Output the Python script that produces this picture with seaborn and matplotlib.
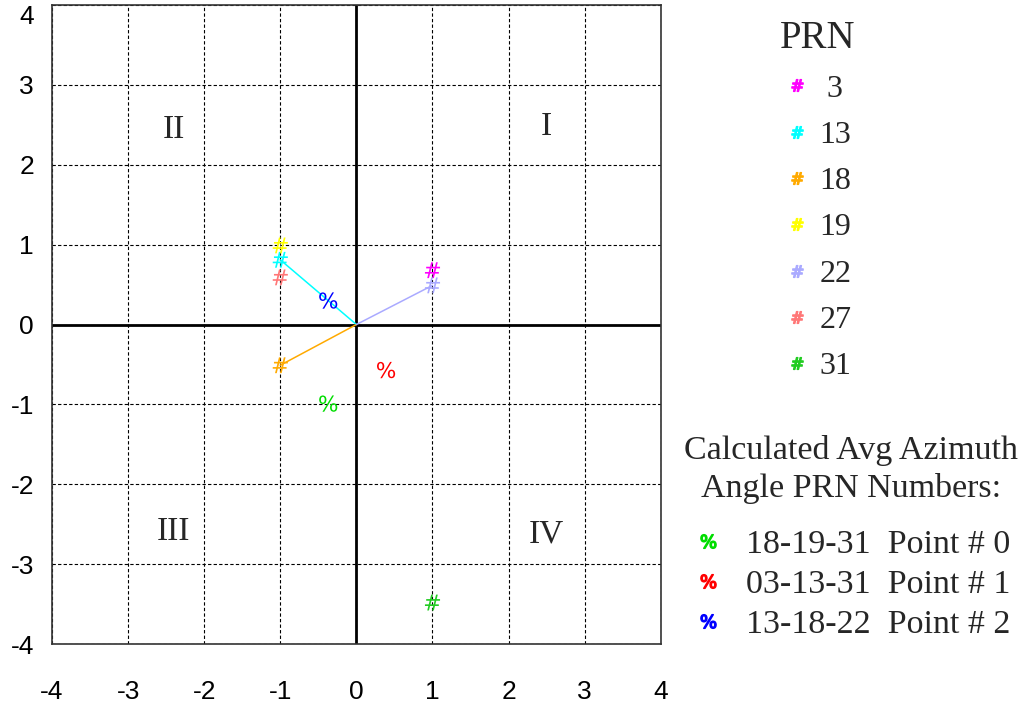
import matplotlib
matplotlib.use("Agg")
import matplotlib.pyplot as plt
from matplotlib.lines import Line2D
import pandas as pd
import seaborn as sns

# Satellite (PRN) azimuth unit positions
prn_labels = ["3", "13", "18", "19", "22", "27", "31"]
prn_x = [1, -1, -1, -1, 1, -1, 1]
prn_y = [0.68, 0.81, -0.51, 0.99, 0.49, 0.59, -3.48]
prn_colors = ["#ff00ff", "#00ffff", "#ffaa00", "#ffff00", "#aaaaff", "#ff7777", "#22cc22"]
# satellites joined to the origin by a ray
ray_prns = ["13", "18", "22"]

# Calculated average azimuth points
avg_names = ["18-19-31", "03-13-31", "13-18-22"]
avg_point_ids = [0, 1, 2]
avg_x = [-0.37, 0.39, -0.37]
avg_y = [-0.99, -0.57, 0.30]
avg_colors = ["#00dd00", "#ff0000", "#0000ff"]

# Quadrant captions
quadrant_names = ["I", "II", "III", "IV"]
quadrant_x = [2.5, -2.4, -2.4, 2.5]
quadrant_y = [2.48, 2.44, -2.59, -2.62]

ticks = [-4, -3, -2, -1, 0, 1, 2, 3, 4]

sns.set_theme(style="white")
plt.rcParams["font.family"] = ["Liberation Sans", "DejaVu Sans"]

serif = "Liberation Serif"

fig = plt.figure(figsize=(10.25, 7.07), dpi=100)
ax = fig.add_axes([0.0507, 0.089, 0.594, 0.904])

ax.set_xlim(-4, 4)
ax.set_ylim(-4, 4)
ax.set_xticks(ticks)
ax.set_yticks(ticks)
ax.set_xticklabels([str(t) for t in ticks], fontsize=19)
ax.set_yticklabels([str(t) for t in ticks], fontsize=19)
ax.tick_params(axis="both", length=0, colors="black")
ax.tick_params(axis="x", pad=26)
ax.tick_params(axis="y", pad=13)
ax.yaxis.get_major_ticks()[-1].label1.set_va("top")

ax.grid(True, color="black", linestyle=(0, (3, 2)), linewidth=0.8)
ax.set_axisbelow(True)
for side in ax.spines.values():
    side.set_color("#333333")
    side.set_linewidth(1.2)

ax.axhline(0, color="black", linewidth=2, zorder=2)
ax.axvline(0, color="black", linewidth=2, zorder=2)

prn_palette = dict(zip(prn_labels, prn_colors))
prn_df = pd.DataFrame({"x": prn_x, "y": prn_y, "prn": prn_labels})

# rays from the origin
for p in ray_prns:
    i = prn_labels.index(p)
    ax.plot([0, prn_x[i]], [0, prn_y[i]], color=prn_colors[i], linewidth=1.1, zorder=3)

sns.scatterplot(data=prn_df, x="x", y="y", hue="prn", palette=prn_palette,
                marker="$\\#$", s=130, linewidth=0, legend=False, ax=ax, zorder=4)

avg_df = pd.DataFrame({"x": avg_x, "y": avg_y, "name": avg_names})
sns.scatterplot(data=avg_df, x="x", y="y", hue="name",
                palette=dict(zip(avg_names, avg_colors)),
                marker="$\\%$", s=170, linewidth=0, legend=False, ax=ax, zorder=5)
ax.set_xlabel("")
ax.set_ylabel("")

for name, qx, qy in zip(quadrant_names, quadrant_x, quadrant_y):
    ax.text(qx, qy, name, family=serif, fontsize=24, ha="center", va="center")

# PRN legend
prn_handles = [Line2D([], [], linestyle="", marker="$\\#$", color=c, markersize=8.5)
               for c in prn_colors]
prn_text = [" " + l if len(l) == 1 else l for l in prn_labels]
leg1 = fig.legend(prn_handles, prn_text, title="PRN", loc="upper left",
                  bbox_to_anchor=(0.761, 0.972), frameon=False,
                  prop={"family": serif, "size": 23},
                  title_fontproperties={"family": serif, "size": 28},
                  labelspacing=0.53, handletextpad=0.3, handlelength=0.8,
                  borderaxespad=0, borderpad=0)
leg1._legend_box.sep = 12.5

# Average azimuth legend
avg_handles = [Line2D([], [], linestyle="", marker="$\\%$", color=c, markersize=11)
               for c in avg_colors]
avg_text = [f"{n}  Point # {k}" for n, k in zip(avg_names, avg_point_ids)]
leg2 = fig.legend(avg_handles, avg_text, title="Calculated Avg Azimuth\nAngle PRN Numbers:",
                  loc="upper left", bbox_to_anchor=(0.667, 0.385), frameon=False,
                  prop={"family": serif, "size": 24.5},
                  title_fontproperties={"family": serif, "size": 24.5},
                  labelspacing=0.26, handletextpad=0.62, handlelength=1.0,
                  borderaxespad=0, borderpad=0)
leg2.get_title().set_multialignment("center")
leg2.get_title().set_linespacing(1.32)
leg2._legend_box.sep = 18

fig.savefig("out.png", dpi=100)
